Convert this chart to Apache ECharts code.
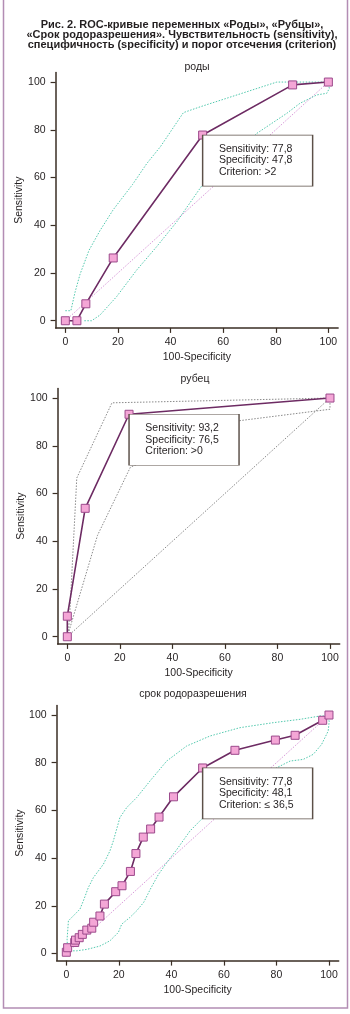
<!DOCTYPE html>
<html>
<head>
<meta charset="utf-8">
<script src="https://cdn.jsdelivr.net/npm/echarts@6/dist/echarts.min.js"></script>
<style>
html,body{margin:0;padding:0;background:#fff;}
#c{width:350px;height:1014px;}
</style>
</head>
<body>
<div id="c"></div>
<script>
// ---------- DATA ----------
const mainTitle = 'Рис. 2. ROC-кривые переменных «Роды», «Рубцы»,\n«Срок родоразрешения». Чувствительность (sensitivity),\nспецифичность (specificity) и порог отсечения (criterion)';
const panelTitles = ['роды', 'рубец', 'срок родоразрешения'];
const xName = '100-Specificity';
const yName = 'Sensitivity';
const tickValues = [0, 20, 40, 60, 80, 100];

// Panel 1: роды
const rodyX = [0, 4.4, 7.8, 18.2, 52.2, 86.4, 100];
const rodyY = [0, 0, 7.1, 26.3, 77.8, 98.8, 100];
const rodyCiX = [0, 2.1, 3.7, 5.6, 9.0, 13.2, 18.2, 25.5, 31.0, 36.2, 44.9, 51.2, 80.4, 85.4, 99.6, 100.4, 99.4, 95.6, 89.2, 84.2, 72.8, 51.8, 42.4, 34.7, 27.1, 19.5, 13.2, 10.0, 6.8];
const rodyCiY = [4.2, 4.2, 12.0, 19.5, 29.5, 37.8, 46.5, 57.0, 65.9, 73.0, 87.2, 89.6, 100, 100, 100, 97.4, 95.3, 94.6, 91.1, 86.9, 78.5, 56.4, 41.5, 31.0, 21.2, 10.1, 2.4, 0, 0];
const rodyNote = 'Sensitivity: 77,8\nSpecificity: 47,8\nCriterion: >2';

// Panel 2: рубец
const rubX = [0, 0, 6.8, 23.5, 100];
const rubY = [0, 8.6, 53.8, 93.2, 100];
const rubUpX = [0.3, 1.0, 3.6, 17.0, 100];
const rubUpY = [0, 11, 66.5, 98.0, 100];
const rubLowX = [0, 11.5, 24.0, 64.7, 100, 100];
const rubLowY = [0, 42.5, 71.0, 90.4, 95.3, 100];
const rubNote = 'Sensitivity: 93,2\nSpecificity: 76,5\nCriterion: >0';

// Panel 3: срок родоразрешения
const srokX = [0, 0.5, 3.2, 3.5, 4.9, 6.1, 7.8, 9.7, 10.4, 12.8, 14.5, 18.8, 21.2, 24.4, 26.5, 29.3, 32.1, 35.3, 40.8, 51.9, 64.2, 79.6, 87.1, 97.6, 100];
const srokY = [0.5, 2.4, 4.6, 5.6, 6.6, 8.0, 9.8, 10.6, 13.1, 15.7, 20.7, 25.9, 28.4, 34.4, 41.9, 48.8, 52.2, 57.2, 65.7, 77.8, 85.2, 89.5, 91.5, 97.8, 100];
const srokCiX = [0.5, 0.3, 0.8, 2.7, 5.2, 6.5, 8.4, 10.3, 14.1, 16.6, 17.9, 20.4, 23.0, 26.8, 31.9, 38.2, 45.8, 54.7, 66.1, 78.8, 89.0, 96.6, 99.1, 100.1, 99.7, 97.2, 94.0, 90.2, 85.2, 80.1, 51.5, 47.1, 42.0, 38.5, 35.0, 32.0, 29.5, 26.8, 24.2, 21.1, 19.8, 16.6, 12.8, 7.8, 4.0, 1.7, 0.5];
const srokCiY = [0.5, 6.0, 13.7, 15.8, 18.6, 22.1, 27.7, 31.8, 37.4, 43.0, 47.2, 57.0, 61.2, 65.4, 72.4, 80.7, 87.0, 91.2, 94.7, 96.8, 98.2, 99.6, 99.6, 97.5, 93.3, 87.7, 83.5, 81.4, 80.7, 77.9, 56.3, 51.4, 43.5, 38.5, 33.0, 27.0, 21.5, 17.9, 15.1, 12.3, 8.8, 5.3, 3.1, 1.7, 1.1, 1.1, 0.5];
const srokNote = 'Sensitivity: 77,8\nSpecificity: 48,1\nCriterion: \u2264 36,5';

const diagX = [0, 100];
const diagY = [0, 100];

// ---------- STYLE ----------
const FONT = '"Liberation Sans", Arial, sans-serif';
const NOTEFONT = '"Liberation Sans Narrow", "Arial Narrow", "Liberation Sans", Arial, sans-serif';
const TXT = '#231f20';
const AX = '#3a2e24';
const ROC = '#6d2b63';
const MFILL = '#f4a6d6';
const MBORD = '#9c4a8c';
const TEAL = '#52c9ae';
const PINK = '#d99ad9';
const GRAY = '#8a8a8a';

const pairs = (xs, ys) => xs.map((x, i) => [x, ys[i]]);

const grids = [
  {left: 55.6, top: 72.5, width: 282.5, height: 255.4},
  {left: 57.6, top: 388.5, width: 282.1, height: 255.4},
  {left: 56.6, top: 705.5, width: 282.1, height: 255.1}
];

function xAxis(i) {
  return {
    gridIndex: i, type: 'value', min: -3.7, max: 103.7,
    name: xName, nameLocation: 'middle', nameGap: 24,
    nameTextStyle: {color: TXT, fontSize: 10.5, fontFamily: FONT},
    axisLine: {show: true, onZero: false, lineStyle: {color: AX, width: 1.5}},
    axisTick: {show: true, inside: false, length: 5, lineStyle: {color: AX, width: 1.2}, customValues: tickValues},
    axisLabel: {color: TXT, fontSize: 10.5, fontFamily: FONT, margin: 9, customValues: tickValues},
    splitLine: {show: false}
  };
}
function yAxis(i) {
  return {
    gridIndex: i, type: 'value', min: -3, max: 104,
    name: yName, nameLocation: 'middle', nameGap: 31, nameRotate: 90, nameMoveOverlap: false,
    nameTextStyle: {color: TXT, fontSize: 10.5, fontFamily: FONT},
    axisLine: {show: true, onZero: false, lineStyle: {color: AX, width: 1.5}},
    axisTick: {show: true, inside: false, length: 5, lineStyle: {color: AX, width: 1.2}, customValues: tickValues},
    axisLabel: {color: TXT, fontSize: 10.5, fontFamily: FONT, margin: 10, customValues: tickValues},
    splitLine: {show: false}
  };
}
function dotted(i, data, color) {
  return {
    type: 'line', xAxisIndex: i, yAxisIndex: i, data: data,
    showSymbol: false, symbol: 'none', silent: true, z: 1,
    lineStyle: {color: color, width: 1, type: [1.5, 1.5]}
  };
}
function roc(i, data, note, anchor) {
  return {
    type: 'line', xAxisIndex: i, yAxisIndex: i, data: data, z: 3,
    symbol: 'rect', symbolSize: 8, showSymbol: true,
    lineStyle: {color: ROC, width: 1.6},
    itemStyle: {color: MFILL, borderColor: MBORD, borderWidth: 1},
    markPoint: {
      z: 6, silent: true, animation: false,
      symbol: 'rect', symbolSize: [110, 51], symbolOffset: [55, 25.5],
      itemStyle: {color: '#ffffff', borderColor: '#5c5048', borderWidth: 1},
      label: {show: true, position: 'insideLeft', distance: 17, formatter: note,
        color: TXT, fontSize: 10.5, lineHeight: 11.5, fontFamily: NOTEFONT, align: 'left'},
      data: [{coord: anchor}]
    }
  };
}

const chart = echarts.init(document.getElementById('c'), null, {renderer: 'canvas'});
chart.setOption({
  animation: false,
  backgroundColor: '#ffffff',
  title: [
    {text: mainTitle, left: 177, top: 15, textAlign: 'center',
      textStyle: {fontFamily: FONT, fontSize: 11, fontWeight: 'bold', color: TXT, lineHeight: 10}},
    {text: panelTitles[0], left: 192, top: 57, textAlign: 'center',
      textStyle: {fontFamily: FONT, fontSize: 10.5, fontWeight: 'normal', color: TXT}},
    {text: panelTitles[1], left: 190, top: 369, textAlign: 'center',
      textStyle: {fontFamily: FONT, fontSize: 10.5, fontWeight: 'normal', color: TXT}},
    {text: panelTitles[2], left: 188, top: 684, textAlign: 'center',
      textStyle: {fontFamily: FONT, fontSize: 10.5, fontWeight: 'normal', color: TXT}}
  ],
  graphic: [{
    type: 'rect', silent: true, z: 100,
    shape: {x: 3.5, y: -5, width: 344, height: 1013},
    style: {fill: 'none', stroke: '#b38db4', lineWidth: 1.5}
  }],
  grid: grids,
  xAxis: [xAxis(0), xAxis(1), xAxis(2)],
  yAxis: [yAxis(0), yAxis(1), yAxis(2)],
  series: [
    dotted(0, pairs(diagX, diagY), PINK),
    dotted(0, pairs(rodyCiX, rodyCiY), TEAL),
    roc(0, pairs(rodyX, rodyY), rodyNote, [rodyX[4], rodyY[4]]),

    dotted(1, pairs(diagX, diagY), GRAY),
    dotted(1, pairs(rubUpX, rubUpY), GRAY),
    dotted(1, pairs(rubLowX, rubLowY), GRAY),
    roc(1, pairs(rubX, rubY), rubNote, [rubX[3], rubY[3]]),

    dotted(2, pairs(diagX, diagY), PINK),
    dotted(2, pairs(srokCiX, srokCiY), TEAL),
    roc(2, pairs(srokX, srokY), srokNote, [srokX[19], srokY[19]])
  ]
});
</script>
</body>
</html>
